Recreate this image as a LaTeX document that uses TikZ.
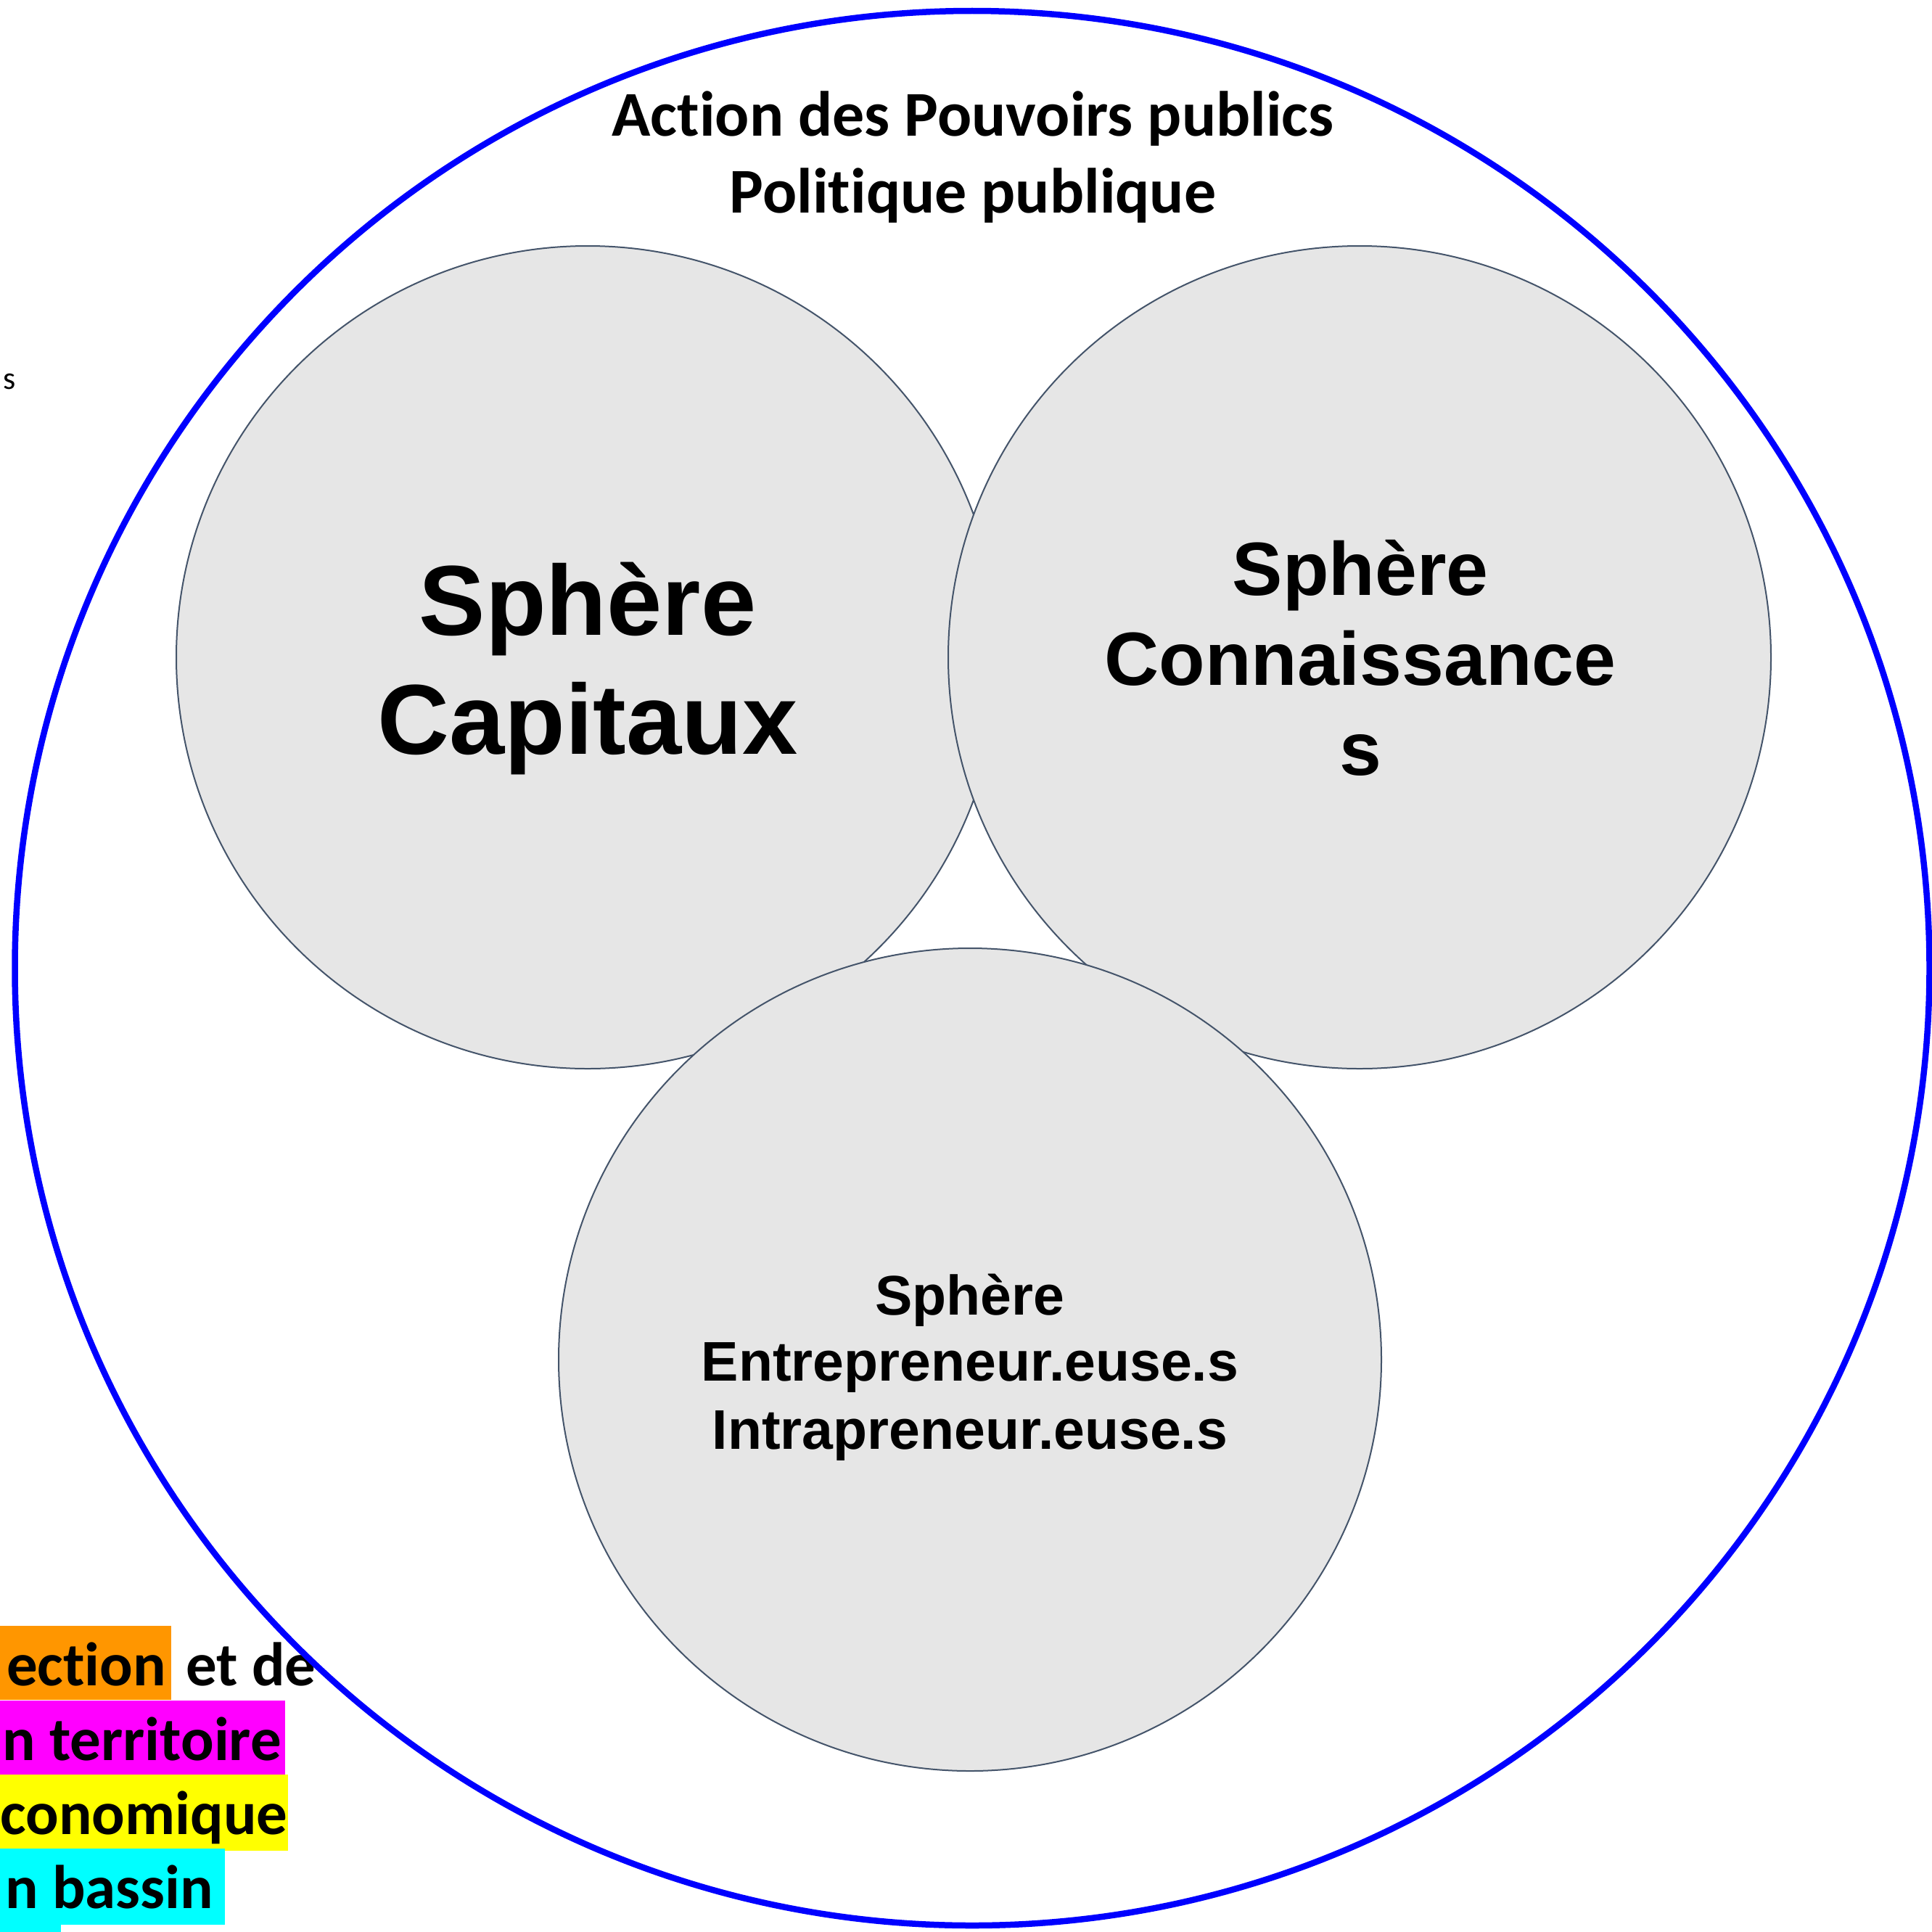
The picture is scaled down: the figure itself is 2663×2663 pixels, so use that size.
\documentclass[tikz,border=0pt]{standalone}
\usepackage{fontspec}
\setmainfont{Carlito}[Ligatures=NoCommon]
\newfontfamily\arialf{Liberation Sans}
\definecolor{sphfill}{HTML}{E6E6E6}
\definecolor{sphline}{HTML}{44546A}
\definecolor{hlorange}{HTML}{FF9600}
\definecolor{hlmagenta}{HTML}{FF00FF}
\definecolor{hlyellow}{HTML}{FFFF00}
\definecolor{hlcyan}{HTML}{00FFFF}
\begin{document}
\begin{tikzpicture}[x=1pt,y=-1pt,
  sphere/.style={circle, fill=sphfill, draw=sphline, line width=2pt, minimum size=1134pt, inner sep=0pt},
  outerring/.style={circle, draw={rgb,255:red,0;green,0;blue,255}, line width=8.5pt, minimum size=2639pt, inner sep=0pt},
  lbl/.style={anchor=base, inner sep=0pt},
  lefttxt/.style={anchor=base west, inner sep=0pt, font=\bfseries\fontsize{85}{102}\selectfont},
  titlef/.style={lbl, font=\bfseries\fontsize{88}{104}\selectfont},
  capf/.style={lbl, font=\arialf\bfseries\fontsize{137}{160}\selectfont},
  conf/.style={lbl, font=\arialf\bfseries\fontsize{104}{124}\selectfont},
  entf/.style={lbl, font=\arialf\bfseries\fontsize{77}{92}\selectfont},
]
\useasboundingbox (0,0) rectangle (2663,2663);
\fill[white] (0,0) rectangle (2663,2663);

% left clipped text with highlights
\fill[hlorange] (0,2241) rectangle (236,2343);
\fill[hlmagenta] (0,2344) rectangle (393,2446);
\fill[hlyellow] (0,2446) rectangle (397,2551);
\fill[hlcyan] (0,2548) rectangle (310,2653);
\fill[hlcyan] (0,2653) rectangle (84,2663);
\node[lefttxt] (l1a) at (9,2323) {ection};
\node[lefttxt] (l1b) at (256,2323) {et de};
\node[lefttxt] (l2) at (3,2426) {n territoire};
\node[lefttxt] (l3) at (0,2528) {conomique};
\node[lefttxt] (l4) at (7,2630) {n bassin};
\node[anchor=base west, inner sep=0pt, font=\fontsize{44}{52}\selectfont] (ls) at (4,536) {s};

% outer ring
\node[outerring] (outer) at (1340,1334.5) {};

% title
\node[titlef] (t1) at (1341,187) {Action des Pouvoirs publics};
\node[titlef] (t2) at (1341,293) {Politique publique};

% spheres
\node[sphere] (cap) at (810,906) {};
\node[sphere] (con) at (1874,906) {};
\node[sphere] (ent) at (1337,1874) {};

\node[capf] (cap1) at (810,875) {Sphère};
\node[capf] (cap2) at (810,1039) {Capitaux};

\node[conf] (con1) at (1875,820) {Sphère};
\node[conf] (con2) at (1875,944) {Connaissance};
\node[conf] (con3) at (1875,1068) {s};

\node[entf] (ent1) at (1337,1812) {Sphère};
\node[entf] (ent2) at (1337,1903) {Entrepreneur.euse.s};
\node[entf] (ent3) at (1337,1997) {Intrapreneur.euse.s};
\end{tikzpicture}
\end{document}
